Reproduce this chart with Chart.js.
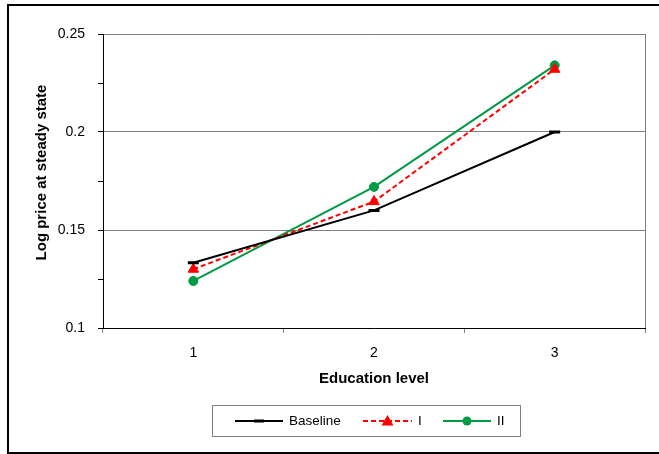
<!DOCTYPE html>
<html>
<head>
<meta charset="utf-8">
<script src="https://cdn.jsdelivr.net/npm/chart.js@4"></script>
<style>
  html, body { margin: 0; padding: 0; background: #fff; }
  #wrap { width: 659px; height: 454px; }
</style>
</head>
<body>
<div id="wrap"><canvas id="chart" width="659" height="454"></canvas></div>
<script>
(() => {
  const educationLevels = ["1", "2", "3"];
  const baseline = [0.1333, 0.160, 0.200];
  const scenarioI = [0.130, 0.1645, 0.232];
  const scenarioII = [0.124, 0.172, 0.234];
  const yMin = 0.1;
  const yMax = 0.25;
  const yStep = 0.025;
  const yTitle = "Log price at steady state";

  const FONT = "'Liberation Sans', Arial, sans-serif";
  const GRID = "#808080";
  const RED = "#ff0000";
  const GREEN = "#009944";

  // labels and gridlines only on the 0.05 steps, small ticks in between
  const isMajor = (v) => Math.round(v * 1000) % 50 === 0;

  const frame = {
    id: "frame",
    beforeDraw(chart) {
      const { ctx } = chart;
      ctx.save();
      ctx.fillStyle = "#fff";
      ctx.fillRect(0, 0, chart.width, chart.height);
      ctx.restore();
    },
    afterDraw(chart) {
      const { ctx, chartArea: a } = chart;
      ctx.save();
      // right edge of plot area
      ctx.strokeStyle = GRID;
      ctx.lineWidth = 1;
      ctx.beginPath();
      ctx.moveTo(a.right + 0.5, a.top);
      ctx.lineTo(a.right + 0.5, a.bottom);
      ctx.stroke();

      // outer border
      ctx.strokeStyle = "#000";
      ctx.lineWidth = 2;
      ctx.strokeRect(8, 5, 700, 448);

      // y axis title, sits a little above the plot's middle
      ctx.save();
      ctx.translate(42, 172.5);
      ctx.rotate(-Math.PI / 2);
      ctx.font = "bold 15px " + FONT;
      ctx.fillStyle = "#000";
      ctx.textAlign = "center";
      ctx.textBaseline = "middle";
      ctx.fillText(yTitle, 0, 0);
      ctx.restore();

      // legend
      ctx.strokeStyle = GRID;
      ctx.lineWidth = 1;
      ctx.strokeRect(212.5, 405.5, 308, 31);
      const ly = 421;
      ctx.font = "13.5px " + FONT;
      ctx.textBaseline = "middle";
      ctx.fillStyle = "#000";

      const sample = (x0, x1, color, dash) => {
        ctx.strokeStyle = color;
        ctx.lineWidth = 2;
        ctx.setLineDash(dash);
        ctx.beginPath();
        ctx.moveTo(x0, ly);
        ctx.lineTo(x1, ly);
        ctx.stroke();
        ctx.setLineDash([]);
      };

      sample(235, 283, "#000", []);
      ctx.strokeStyle = "#000";
      ctx.lineWidth = 3;
      ctx.beginPath();
      ctx.moveTo(254, ly);
      ctx.lineTo(264, ly);
      ctx.stroke();
      ctx.fillText("Baseline", 289, ly);

      sample(363, 412, RED, [5, 3]);
      ctx.fillStyle = RED;
      ctx.beginPath();
      ctx.moveTo(387.5, ly - 6);
      ctx.lineTo(393.5, ly + 4.5);
      ctx.lineTo(381.5, ly + 4.5);
      ctx.closePath();
      ctx.fill();
      ctx.fillStyle = "#000";
      ctx.fillText("I", 418, ly);

      sample(443, 491, GREEN, []);
      ctx.fillStyle = GREEN;
      ctx.beginPath();
      ctx.arc(467, ly, 4.5, 0, Math.PI * 2);
      ctx.fill();
      ctx.fillStyle = "#000";
      ctx.fillText("II", 497, ly);
      ctx.restore();
    },
  };

  new Chart(document.getElementById("chart"), {
    type: "line",
    data: {
      labels: educationLevels,
      datasets: [
        {
          label: "Baseline",
          data: baseline,
          borderColor: "#000",
          borderWidth: 2,
          pointStyle: "line",
          pointRadius: 5.5,
          pointBorderWidth: 3,
          pointBorderColor: "#000",
        },
        {
          label: "I",
          data: scenarioI,
          borderColor: RED,
          borderWidth: 2,
          borderDash: [5, 3],
          pointStyle: "triangle",
          pointRadius: 6,
          pointBackgroundColor: RED,
          pointBorderColor: RED,
          pointBorderWidth: 1,
        },
        {
          label: "II",
          data: scenarioII,
          borderColor: GREEN,
          borderWidth: 2,
          pointStyle: "circle",
          pointRadius: 4.5,
          pointBackgroundColor: GREEN,
          pointBorderColor: GREEN,
          pointBorderWidth: 1,
        },
      ],
    },
    options: {
      responsive: false,
      animation: false,
      layout: { padding: { top: 34, left: 0, right: 14, bottom: 0 } },
      plugins: { legend: { display: false }, tooltip: { enabled: false } },
      scales: {
        x: {
          type: "category",
          offset: true,
          afterFit: (scale) => { scale.height = 126; },
          grid: {
            offset: true,
            drawOnChartArea: false,
            tickLength: 5,
            color: GRID,
          },
          border: { color: "#000", width: 1 },
          ticks: {
            padding: 12,
            color: "#000",
            font: { family: FONT, size: 14 },
          },
          title: {
            display: true,
            text: "Education level",
            color: "#000",
            font: { family: FONT, size: 15, weight: "bold" },
            padding: { top: 0, bottom: 66 },
          },
        },
        y: {
          min: yMin,
          max: yMax,
          afterFit: (scale) => { scale.width = 103; },
          grid: {
            color: (c) => (c.tick && isMajor(c.tick.value) ? GRID : "rgba(0,0,0,0)"),
            tickColor: "#000",
            tickLength: 5,
          },
          border: { color: "#000", width: 1 },
          ticks: {
            stepSize: yStep,
            autoSkip: false,
            padding: 13,
            color: "#000",
            font: { family: FONT, size: 14 },
            callback: (v) => (isMajor(v) ? String(Math.round(v * 1000) / 1000) : ""),
          },
        },
      },
    },
    plugins: [frame],
  });
})();
</script>
</body>
</html>
